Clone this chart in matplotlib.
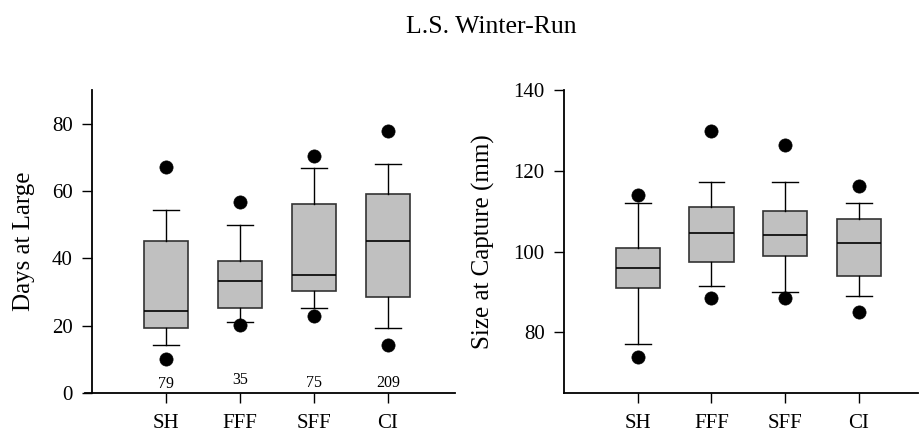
import matplotlib
matplotlib.use("Agg")
import matplotlib.pyplot as plt

plt.rcParams['font.family'] = ['Liberation Serif', 'DejaVu Serif']

categories = ["SH", "FFF", "SFF", "CI"]
counts = ["79", "35", "75", "209"]

# Days at Large
days_whislo = [14.2, 21.1, 25.1, 19.2]
days_q1 = [19.2, 25.1, 30.3, 28.6]
days_med = [24.4, 33.3, 35.1, 45.0]
days_q3 = [45.0, 39.1, 56.2, 59.1]
days_whishi = [54.2, 50.0, 66.8, 68.1]
days_fliers = [[67.1, 10.2], [56.7, 20.1], [70.3, 22.8], [77.7, 14.2]]

# Size at Capture (mm)
size_whislo = [77.0, 91.4, 90.1, 89.0]
size_q1 = [91.1, 97.3, 99.0, 94.0]
size_med = [96.0, 104.5, 104.0, 102.0]
size_q3 = [101.0, 110.9, 110.0, 108.0]
size_whishi = [112.0, 117.1, 117.1, 112.0]
size_fliers = [[114.0, 74.0], [129.9, 88.4], [126.4, 88.4], [116.1, 85.0]]


def make_stats(lo, q1, med, q3, hi, fl):
    return [dict(whislo=a, q1=b, med=c, q3=d, whishi=e, fliers=f, label=n)
            for a, b, c, d, e, f, n in zip(lo, q1, med, q3, hi, fl, categories)]


fig = plt.figure(figsize=(9.19, 4.33), dpi=100)
ax1 = fig.add_axes([0.0921, 0.0924, 0.4026, 0.700])
ax2 = fig.add_axes([0.6137, 0.0924, 0.385, 0.700])

positions = [1, 2, 3, 4]
boxprops = dict(facecolor='#c0c0c0', edgecolor='#333333', linewidth=1.2)
medianprops = dict(color='black', linewidth=1.2)
whiskerprops = dict(color='black', linewidth=1.0)
capprops = dict(color='black', linewidth=1.0)
flierprops = dict(marker='o', markerfacecolor='black', markeredgecolor='black',
                  markersize=9.5, markeredgewidth=0.5, linestyle='none')

for ax, stats in [(ax1, make_stats(days_whislo, days_q1, days_med, days_q3, days_whishi, days_fliers)),
                  (ax2, make_stats(size_whislo, size_q1, size_med, size_q3, size_whishi, size_fliers))]:
    ax.bxp(stats, positions=positions, widths=0.6, capwidths=0.35, patch_artist=True,
           boxprops=boxprops, medianprops=medianprops, whiskerprops=whiskerprops,
           capprops=capprops, flierprops=flierprops)
    ax.set_xticks(positions)
    ax.set_xticklabels(categories)
    for s in ['top', 'right']:
        ax.spines[s].set_visible(False)
    for s in ['left', 'bottom']:
        ax.spines[s].set_linewidth(1.3)
    ax.tick_params(axis='both', direction='out', length=7, width=1.0, labelsize=15)
    ax.tick_params(axis='x', pad=8)
    ax.tick_params(axis='y', pad=7)

ax1.set_xlim(-0.1, 4.9)
ax1.spines['left'].set_position(('data', 0))
ax1.set_ylim(0, 90)
ax1.set_yticks([0, 20, 40, 60, 80])
ax1.set_ylabel("Days at Large", fontsize=18)
ax1.yaxis.set_label_coords(-0.134, 0.5)
count_y = [2.7, 3.9, 3.0, 3.0]
for p, c, y in zip(positions, counts, count_y):
    ax1.text(p, y, c, ha='center', va='center', fontsize=11.5)

ax2.set_xlim(0, 4.8)
ax2.set_ylim(65, 140)
ax2.set_yticks([80, 100, 120, 140])
ax2.set_ylabel("Size at Capture (mm)", fontsize=18)
ax2.yaxis.set_label_coords(-0.195, 0.5)

fig.text(0.535, 0.938, "L.S. Winter-Run", ha='center', va='center', fontsize=18.5)

fig.savefig("out.png", dpi=100)
